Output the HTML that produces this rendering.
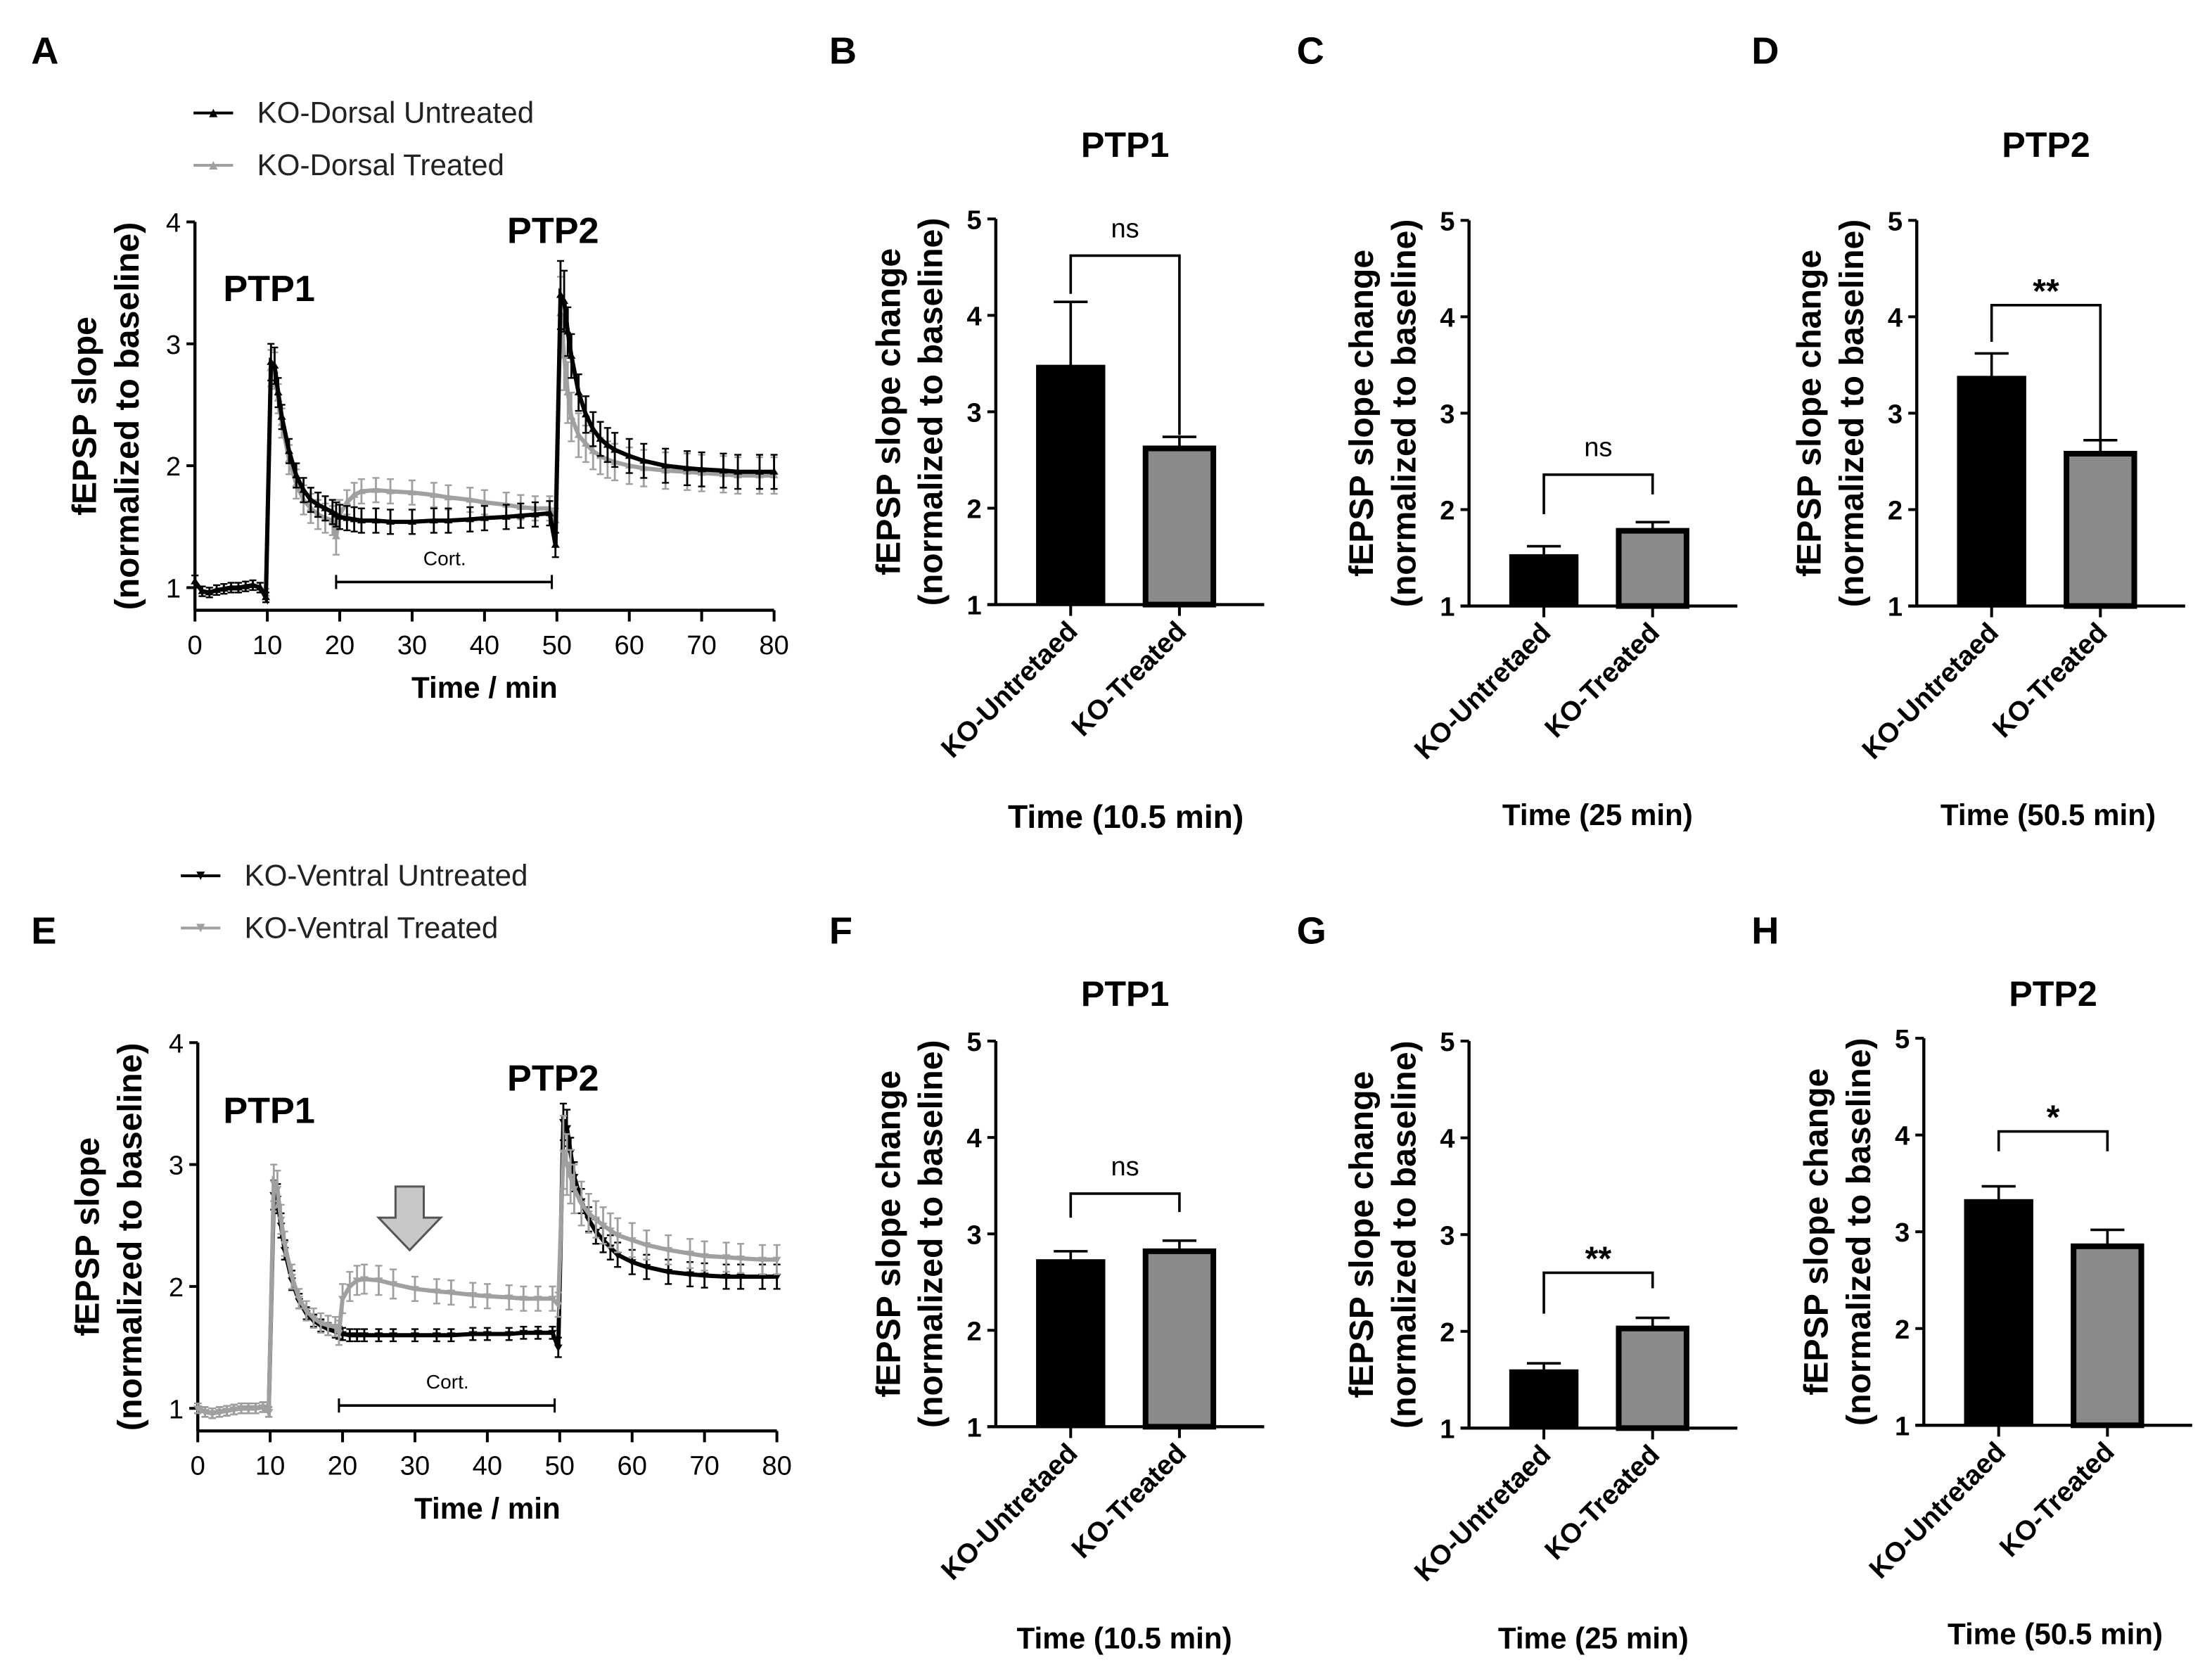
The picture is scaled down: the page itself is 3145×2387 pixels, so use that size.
<!DOCTYPE html>
<html><head><meta charset="utf-8"><style>
html,body{margin:0;padding:0;background:#fff;}
svg{display:block;font-family:"Liberation Sans",Arial,sans-serif;}
</style></head><body>
<svg id="fig" width="3145" height="2387" viewBox="0 0 1566 1188.6" xmlns="http://www.w3.org/2000/svg"></svg>
<script>
// ---- Time-course data (panels A and E) ----
const tA = [0,1,2,3,4,5,6,7,8,9,9.8,10.5,11,11.5,12,13,14,15,16,17,18,19,19.5,20,21,22,23,25,27,30,33,35,38,40,43,45,47,49,49.8,50.5,51,51.5,52,53,54,55,56,57,58,60,62,65,68,70,73,75,78,80];
const dorsalUntreated = [1.05,0.97,0.96,0.98,0.99,1.0,1.0,1.01,1.02,1.0,0.92,2.85,2.82,2.6,2.4,2.12,1.92,1.8,1.72,1.68,1.65,1.62,1.6,1.58,1.57,1.56,1.55,1.55,1.54,1.54,1.55,1.55,1.56,1.57,1.58,1.59,1.6,1.61,1.35,3.4,3.35,3.1,2.9,2.6,2.42,2.3,2.22,2.17,2.13,2.08,2.04,2.0,1.98,1.97,1.96,1.95,1.95,1.95];
const dorsalTreated   = [1.05,0.97,0.96,0.98,0.99,1.0,1.0,1.01,1.02,1.0,0.95,2.8,2.78,2.55,2.35,2.05,1.85,1.72,1.65,1.6,1.57,1.55,1.42,1.6,1.7,1.76,1.79,1.8,1.79,1.78,1.76,1.74,1.72,1.7,1.68,1.66,1.65,1.65,1.55,3.25,2.9,2.6,2.4,2.25,2.18,2.12,2.08,2.05,2.03,2.0,1.98,1.96,1.95,1.94,1.93,1.92,1.92,1.92];
const dorsalErrU = [0.05,0.04,0.04,0.04,0.04,0.04,0.04,0.04,0.04,0.04,0.04,0.15,0.15,0.12,0.1,0.1,0.1,0.1,0.1,0.1,0.1,0.1,0.1,0.1,0.1,0.1,0.1,0.1,0.1,0.1,0.1,0.1,0.1,0.1,0.1,0.1,0.1,0.1,0.1,0.28,0.25,0.2,0.18,0.15,0.15,0.14,0.14,0.14,0.14,0.14,0.14,0.14,0.14,0.14,0.14,0.14,0.14,0.14];
const dorsalErrT = [0.05,0.04,0.04,0.04,0.04,0.04,0.04,0.04,0.04,0.04,0.04,0.15,0.15,0.12,0.12,0.12,0.12,0.12,0.12,0.12,0.12,0.12,0.15,0.12,0.1,0.1,0.1,0.1,0.1,0.1,0.1,0.1,0.1,0.1,0.1,0.1,0.1,0.1,0.1,0.3,0.28,0.25,0.2,0.18,0.15,0.15,0.15,0.15,0.15,0.15,0.15,0.15,0.15,0.15,0.15,0.15,0.15,0.15];
const ventralUntreated = [1.0,0.97,0.96,0.97,0.98,0.99,1.0,1.0,1.0,1.01,0.97,2.75,2.72,2.5,2.3,2.05,1.88,1.78,1.72,1.68,1.65,1.63,1.62,1.61,1.6,1.6,1.6,1.6,1.6,1.6,1.6,1.6,1.61,1.61,1.61,1.62,1.62,1.62,1.5,3.35,3.3,3.1,2.9,2.7,2.55,2.45,2.38,2.32,2.26,2.2,2.16,2.12,2.1,2.09,2.08,2.08,2.08,2.08];
const ventralTreated   = [1.0,0.97,0.96,0.97,0.98,0.99,1.0,1.0,1.0,1.01,0.97,2.85,2.8,2.55,2.35,2.08,1.9,1.8,1.74,1.7,1.68,1.67,1.62,1.9,2.0,2.05,2.06,2.05,2.02,1.98,1.96,1.95,1.93,1.92,1.91,1.9,1.9,1.9,1.85,3.1,3.0,2.9,2.8,2.68,2.6,2.55,2.5,2.46,2.42,2.38,2.34,2.3,2.27,2.25,2.24,2.23,2.22,2.22];
const ventralErrU = [0.04,0.04,0.04,0.04,0.04,0.04,0.04,0.04,0.04,0.04,0.04,0.12,0.12,0.1,0.08,0.08,0.06,0.05,0.05,0.05,0.05,0.05,0.05,0.05,0.05,0.05,0.05,0.05,0.05,0.05,0.05,0.05,0.05,0.05,0.05,0.05,0.05,0.05,0.08,0.15,0.15,0.12,0.12,0.1,0.1,0.1,0.1,0.1,0.1,0.1,0.1,0.1,0.1,0.1,0.1,0.1,0.1,0.1];
const ventralErrT = [0.04,0.04,0.04,0.04,0.04,0.04,0.04,0.04,0.04,0.04,0.04,0.15,0.15,0.12,0.1,0.1,0.08,0.08,0.08,0.08,0.08,0.08,0.1,0.12,0.12,0.12,0.12,0.12,0.12,0.1,0.1,0.1,0.1,0.1,0.1,0.1,0.1,0.1,0.1,0.3,0.25,0.22,0.2,0.18,0.16,0.15,0.15,0.14,0.14,0.14,0.12,0.12,0.12,0.12,0.12,0.12,0.12,0.12];
const xTicks = [0,10,20,30,40,50,60,70,80];
const yTicksTC = [1,2,3,4];

// ---- Bar data (panels B,C,D,F,G,H) ----
const barCategories = ["KO-Untretaed","KO-Treated"];
const barYTicks = [1,2,3,4,5];
const meansB = [3.48,2.62], errB = [4.14,2.74];
const meansC = [1.53,1.78], errC = [1.62,1.87];
const meansD = [3.38,2.58], errD = [3.62,2.72];
const meansF = [2.73,2.82], errF = [2.82,2.93];
const meansG = [1.60,2.03], errG = [1.67,2.14];
const meansH = [3.33,2.85], errH = [3.47,3.02];

const NS="http://www.w3.org/2000/svg";
const svg=document.getElementById('fig');
function el(tag,attrs,parent,text){const e=document.createElementNS(NS,tag);for(const k in attrs)e.setAttribute(k,attrs[k]);if(text!==undefined)e.textContent=text;(parent||svg).appendChild(e);return e;}
function txt(x,y,s,size,weight,anchor,parent,rot,fill){const a={x:x,y:y,'font-size':size,'font-weight':weight||'normal','text-anchor':anchor||'middle',fill:fill||'#000'};if(rot)a.transform=`rotate(${rot} ${x} ${y})`;return el('text',a,parent,s);}

[["A",22,45],["B",587,45],["C",918,45],["D",1240,45],["E",22,668],["F",587,668],["G",918,668],["H",1240,668]].forEach(p=>{
  const t=txt(p[1],p[2],p[0],27,'bold','start');
  
  
});

function timeCourse(cfg){
  const g=el('g',{});
  
  
  const X=t=>cfg.x0+t*(cfg.x80-cfg.x0)/80;
  const Y=v=>cfg.y1-(v-1)*cfg.unit;
  const axY=cfg.axisY;
  const ya=el('line',{x1:cfg.x0,y1:axY,x2:cfg.x0,y2:Y(4),stroke:'#000','stroke-width':2.2},g);
  
  const xa=el('line',{x1:cfg.x0,y1:axY,x2:X(80),y2:axY,stroke:'#000','stroke-width':2.2},g);
  
  yTicksTC.forEach(v=>{el('line',{x1:cfg.x0-6,y1:Y(v),x2:cfg.x0,y2:Y(v),stroke:'#000','stroke-width':2},g);
    const t=txt(cfg.x0-10,Y(v)+7,String(v),19,'normal','end',g);});
  xTicks.forEach(v=>{el('line',{x1:X(v),y1:axY,x2:X(v),y2:axY+8,stroke:'#000','stroke-width':2},g);
    const t=txt(X(v),axY+31,String(v),19,'normal','middle',g);});
  cfg.series.forEach(s=>{
    const sg=el('g',{},g);
    
    
    s.vals.forEach((v,i)=>{el('line',{x1:X(tA[i]),x2:X(tA[i]),y1:Y(v-s.err[i]),y2:Y(v+s.err[i]),stroke:s.color,'stroke-width':1.4},sg);
      el('line',{x1:X(tA[i])-2.5,x2:X(tA[i])+2.5,y1:Y(v+s.err[i]),y2:Y(v+s.err[i]),stroke:s.color,'stroke-width':1.2},sg);
      el('line',{x1:X(tA[i])-2.5,x2:X(tA[i])+2.5,y1:Y(v-s.err[i]),y2:Y(v-s.err[i]),stroke:s.color,'stroke-width':1.2},sg);});
    el('polyline',{points:s.vals.map((v,i)=>X(tA[i])+','+Y(v)).join(' '),fill:'none',stroke:s.color,'stroke-width':3},sg);
    s.vals.forEach((v,i)=>{const x=X(tA[i]),y=Y(v);
      el('path',{d:s.down?`M${x-3},${y-2} L${x+3},${y-2} L${x},${y+3}Z`:`M${x-3},${y+2} L${x+3},${y+2} L${x},${y-3}Z`,fill:s.color},sg);});
  });
  cfg.legend.forEach((s,i)=>{
    const ly=cfg.legY+i*37;
    const lg=el('g',{},g);
    
    
    el('line',{x1:cfg.legX,x2:cfg.legX+28,y1:ly,y2:ly,stroke:s.color,'stroke-width':2},lg);
    el('path',{d:s.down?`M${cfg.legX+11},${ly-3} L${cfg.legX+17},${ly-3} L${cfg.legX+14},${ly+3}Z`:`M${cfg.legX+11},${ly+3} L${cfg.legX+17},${ly+3} L${cfg.legX+14},${ly-3}Z`,fill:s.color},lg);
    txt(cfg.legX+45,ly+7,s.label,21,'normal','start',lg,0,'#222');
  });
  let t=txt(cfg.x0-70,(Y(4)+axY)/2,'fEPSP slope',24,'bold','middle',g,-90);
  t=txt(cfg.x0-40,(Y(4)+axY)/2,'(normalized to baseline)',24,'bold','middle',g,-90);
  t=txt(X(40),axY+62,'Time / min',21,'bold','middle',g);
  t=txt(158,cfg.ptp1Y,'PTP1',26,'bold','start',g);
  t=txt(359,cfg.ptp2Y,'PTP2',26,'bold','start',g);
  const cg=el('g',{},g);
  el('line',{x1:X(19.5),x2:X(49.3),y1:cfg.cortY,y2:cfg.cortY,stroke:'#000','stroke-width':1.8},cg);
  el('line',{x1:X(19.5),x2:X(19.5),y1:cfg.cortY-5,y2:cfg.cortY+5,stroke:'#000','stroke-width':1.5},cg);
  el('line',{x1:X(49.3),x2:X(49.3),y1:cfg.cortY-5,y2:cfg.cortY+5,stroke:'#000','stroke-width':1.5},cg);
  txt(X(34.5),cfg.cortY-12,'Cort.',14,'normal','middle',cg);
  return g;
}

const sDU={name:'series-dorsal-untreated',vals:dorsalUntreated,err:dorsalErrU,color:'#000',label:'KO-Dorsal Untreated',down:false};
const sDT={name:'series-dorsal-treated',vals:dorsalTreated,err:dorsalErrT,color:'#a0a0a0',label:'KO-Dorsal Treated',down:false};
timeCourse({name:'panel-a-dorsal-timecourse',x0:138,x80:548,y1:416,unit:86.3,axisY:432,legX:137,legY:80,ptp1Y:213,ptp2Y:172,cortY:412,
  series:[sDT,sDU],legend:[sDU,sDT]});
const sVU={name:'series-ventral-untreated',vals:ventralUntreated,err:ventralErrU,color:'#000',label:'KO-Ventral Untreated',down:true};
const sVT={name:'series-ventral-treated',vals:ventralTreated,err:ventralErrT,color:'#a0a0a0',label:'KO-Ventral Treated',down:true};
timeCourse({name:'panel-e-ventral-timecourse',x0:140,x80:550,y1:997,unit:86.3,axisY:1013,legX:128,legY:620,ptp1Y:795,ptp2Y:772,cortY:995,
  series:[sVU,sVT],legend:[sVU,sVT]});
const arr=el('path',{d:'M280,840 L300,840 L300,862 L312,862 L290,885 L268,862 L280,862 Z',fill:'#c8c8c8',stroke:'#555','stroke-width':1.5});



function barPanel(cfg){
  const g=el('g',{});
  
  
  const Y=v=>cfg.y1-(v-1)*(cfg.y1-cfg.y5)/4;
  const xs=[cfg.ax+53,cfg.ax+130];
  el('line',{x1:cfg.ax,x2:cfg.ax,y1:Y(1),y2:Y(5),stroke:'#000','stroke-width':2.2},g);
  el('line',{x1:cfg.ax-6,x2:cfg.ax+190,y1:Y(1),y2:Y(1),stroke:'#000','stroke-width':2.2},g);
  barYTicks.forEach(v=>{el('line',{x1:cfg.ax-6,x2:cfg.ax,y1:Y(v),y2:Y(v),stroke:'#000','stroke-width':2},g);
    const t=txt(cfg.ax-10,Y(v)+7,String(v),19,'bold','end',g);});
  cfg.means.forEach((m,i)=>{
    const cx=xs[i];
    const b=el('rect',{x:cx-24,y:Y(m),width:48,height:Y(1)-Y(m),fill:i?'#8a8a8a':'#000',stroke:'#000','stroke-width':i?4:1},g);
    
    
    const e=el('g',{},g);
    
    
    el('line',{x1:cx,x2:cx,y1:Y(m),y2:Y(cfg.err[i]),stroke:'#000','stroke-width':1.8},e);
    el('line',{x1:cx-12,x2:cx+12,y1:Y(cfg.err[i]),y2:Y(cfg.err[i]),stroke:'#000','stroke-width':1.8},e);
    el('line',{x1:cx,x2:cx,y1:Y(1),y2:Y(1)+8,stroke:'#000','stroke-width':2},g);
    const t=txt(cx+6,Y(1)+20,barCategories[i],19.5,'bold','end',g,-45);
    
  });
  const sg=el('g',{},g);
  
  
  el('polyline',{points:`${xs[0]},${cfg.br[1]} ${xs[0]},${cfg.br[0]} ${xs[1]},${cfg.br[0]} ${xs[1]},${cfg.br[2]}`,fill:'none',stroke:'#000','stroke-width':1.8},sg);
  txt((xs[0]+xs[1])/2,cfg.br[0]-(cfg.sig==='ns'?13:2),cfg.sig,cfg.sig==='ns'?19:24,cfg.sig==='ns'?'normal':'bold','middle',sg);
  const mid=(Y(1)+Y(5))/2;
  let t=txt(cfg.ax-68,mid,'fEPSP slope change',24,'bold','middle',g,-90);
  t=txt(cfg.ax-38,mid,'(normalized to baseline)',24,'bold','middle',g,-90);
  if(cfg.title){t=txt((xs[0]+xs[1])/2,cfg.titleY,cfg.title,25,'bold','middle',g);}
  t=txt(cfg.xtX,cfg.xtY,cfg.xt,cfg.xtS||21,'bold','middle',g);
}
barPanel({name:'panel-b-ptp1-dorsal',ax:705,y1:428,y5:155,means:meansB,err:errB,br:[181,208,308],sig:'ns',title:'PTP1',titleY:111,xt:'Time (10.5 min)',xtX:797,xtY:586,xtS:23});
barPanel({name:'panel-c-25min-dorsal',ax:1040,y1:429,y5:156,means:meansC,err:errC,br:[336,364,350],sig:'ns',xt:'Time (25 min)',xtX:1131,xtY:584});
barPanel({name:'panel-d-ptp2-dorsal',ax:1357,y1:429,y5:156,means:meansD,err:errD,br:[216,242,322],sig:'**',title:'PTP2',titleY:111,xt:'Time (50.5 min)',xtX:1450,xtY:584});
barPanel({name:'panel-f-ptp1-ventral',ax:705,y1:1010,y5:737,means:meansF,err:errF,br:[845,862,858],sig:'ns',title:'PTP1',titleY:712,xt:'Time (10.5 min)',xtX:796,xtY:1167});
barPanel({name:'panel-g-25min-ventral',ax:1040,y1:1011,y5:737,means:meansG,err:errG,br:[901,930,912],sig:'**',xt:'Time (25 min)',xtX:1128,xtY:1167});
barPanel({name:'panel-h-ptp2-ventral',ax:1362,y1:1009,y5:735,means:meansH,err:errH,br:[801,815,815],sig:'*',title:'PTP2',titleY:712,xt:'Time (50.5 min)',xtX:1455,xtY:1164});
</script>
</body></html>
